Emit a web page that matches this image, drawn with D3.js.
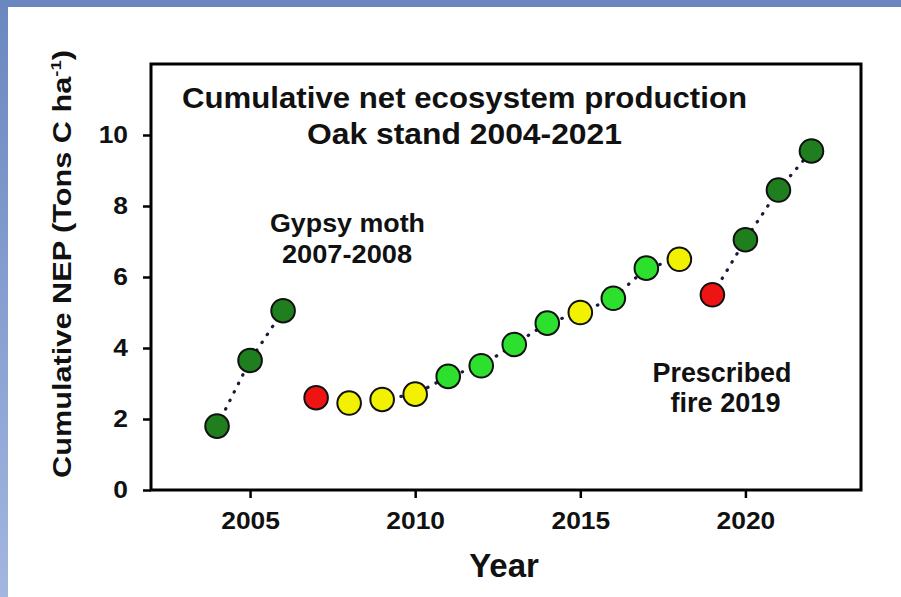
<!DOCTYPE html>
<html>
<head>
<meta charset="utf-8">
<script src="https://cdn.jsdelivr.net/npm/d3@7"></script>
<style>
  html, body { margin: 0; padding: 0; background: #fff; }
  svg { display: block; }
  text { font-family: "Liberation Sans", Arial, sans-serif; font-weight: bold; fill: #111; }
</style>
</head>
<body>
<svg id="chart" width="901" height="597"></svg>
<script>
// Cumulative NEP by year, with the disturbance class of each year
const years = [2004, 2005, 2006, 2007, 2008, 2009, 2010, 2011, 2012, 2013, 2014, 2015, 2016, 2017, 2018, 2019, 2020, 2021, 2022];
const nep   = [1.8, 3.65, 5.05, 2.6, 2.45, 2.55, 2.7, 3.2, 3.5, 4.1, 4.7, 5.0, 5.4, 6.25, 6.5, 5.5, 7.05, 8.45, 9.55];
const status = ["dark", "dark", "dark", "red", "yellow", "yellow", "yellow", "green", "green", "green", "green", "yellow", "green", "green", "yellow", "red", "dark", "dark", "dark"];
// Dotted connector runs (first year, last year)
const segments = [[2004, 2006], [2009, 2018], [2019, 2022]];
const xTicks = [2005, 2010, 2015, 2020];
const yTicks = [0, 2, 4, 6, 8, 10];

const fills = { dark: "#1f7f1f", green: "#2ee02e", yellow: "#f2f200", red: "#ee1414" };

const svg = d3.select("#chart");

// Frame strips along the top and left edges
const grad = svg.append("defs").append("linearGradient")
  .attr("id", "leftStrip").attr("x1", 0).attr("y1", 0).attr("x2", 0).attr("y2", 1);
grad.append("stop").attr("offset", "0%").attr("stop-color", "#6a87c0");
grad.append("stop").attr("offset", "100%").attr("stop-color", "#a3b6e0");
svg.append("rect").attr("x", 0).attr("y", 0).attr("width", 8).attr("height", 597).attr("fill", "url(#leftStrip)");
svg.append("rect").attr("x", 0).attr("y", 0).attr("width", 901).attr("height", 7).attr("fill", "#6a87c0");

const plotL = 151, plotR = 861, plotT = 64, plotB = 490;
const x = d3.scaleLinear().domain([2002, 2023.5]).range([plotL, plotR]);
const y = d3.scaleLinear().domain([0, 12]).range([plotB, plotT]);

// Widen a label's glyphs horizontally by factor k (the typeface runs wide)
function widen(sel, k) {
  sel.each(function () {
    const w = this.getComputedTextLength();
    d3.select(this).attr("textLength", w * k).attr("lengthAdjust", "spacingAndGlyphs");
  });
}

// Plot frame
svg.append("rect")
  .attr("x", plotL).attr("y", plotT)
  .attr("width", plotR - plotL).attr("height", plotB - plotT)
  .attr("fill", "none").attr("stroke", "#000").attr("stroke-width", 3);

// Axes
const xAxis = svg.append("g").attr("transform", `translate(0,${plotB})`)
  .call(d3.axisBottom(x).tickValues(xTicks).tickFormat(d3.format("d")).tickSize(8).tickPadding(14));
const yAxis = svg.append("g").attr("transform", `translate(${plotL},0)`)
  .call(d3.axisLeft(y).tickValues(yTicks).tickSize(8).tickPadding(15));
[[xAxis, 24], [yAxis, 24]].forEach(([g, fs]) => {
  g.select(".domain").remove();
  g.selectAll(".tick line").attr("stroke", "#000").attr("stroke-width", 2.5);
  g.selectAll(".tick text").style("font-size", fs + "px").style("font-family", "'Liberation Sans', Arial, sans-serif")
    .style("font-weight", "bold").attr("fill", "#111");
});
widen(xAxis.selectAll(".tick text"), 1.1);
widen(yAxis.selectAll(".tick text"), 1.1);

// Axis titles
svg.append("text").attr("x", 504).attr("y", 577).attr("text-anchor", "middle")
  .style("font-size", "33px").text("Year");

const yl = svg.append("g").attr("transform", "translate(71,264) rotate(-90)")
  .append("text").attr("text-anchor", "middle").style("font-size", "25px");
yl.append("tspan").text("Cumulative NEP (Tons C ha");
yl.append("tspan").attr("dy", -10).style("font-size", "15px").text("-1");
yl.append("tspan").attr("dy", 10).text(")");
{
  const w = yl.node().getBBox().width;
  yl.attr("transform", `scale(${428 / w},1)`);
}

// Dotted connectors
const pts = years.map((yr, i) => ({ yr, v: nep[i], s: status[i] }));
const line = d3.line().x(d => x(d.yr)).y(d => y(d.v));
const plot = svg.append("g");
segments.forEach(([a, b]) => {
  plot.append("path")
    .datum(pts.filter(d => d.yr >= a && d.yr <= b))
    .attr("d", line)
    .attr("fill", "none").attr("stroke", "#1a1a3a").attr("stroke-width", 3.2)
    .attr("stroke-linecap", "round").attr("stroke-dasharray", "0.5,9");
});

// Yearly points
plot.selectAll("circle").data(pts).join("circle")
  .attr("cx", d => x(d.yr)).attr("cy", d => y(d.v)).attr("r", 11.8)
  .attr("fill", d => fills[d.s]).attr("stroke", "#111").attr("stroke-width", 2);

// Annotations: [text, centre x, baseline y, font size, drawn width]
function label(rows) {
  rows.forEach(([s, cx, by, size, w]) => {
    svg.append("text").attr("x", cx).attr("y", by).attr("text-anchor", "middle")
      .style("font-size", size + "px")
      .attr("textLength", w).attr("lengthAdjust", "spacingAndGlyphs")
      .text(s);
  });
}
label([
  ["Cumulative net ecosystem production", 464.5, 108, 29, 565],
  ["Oak stand 2004-2021", 464.5, 144, 29, 315],
  ["Gypsy moth", 347.5, 232, 26, 155],
  ["2007-2008", 347, 263, 26, 130],
  ["Prescribed", 722, 382, 27, 139],
  ["fire 2019", 725.5, 412, 27, 110]
]);
</script>
</body>
</html>
